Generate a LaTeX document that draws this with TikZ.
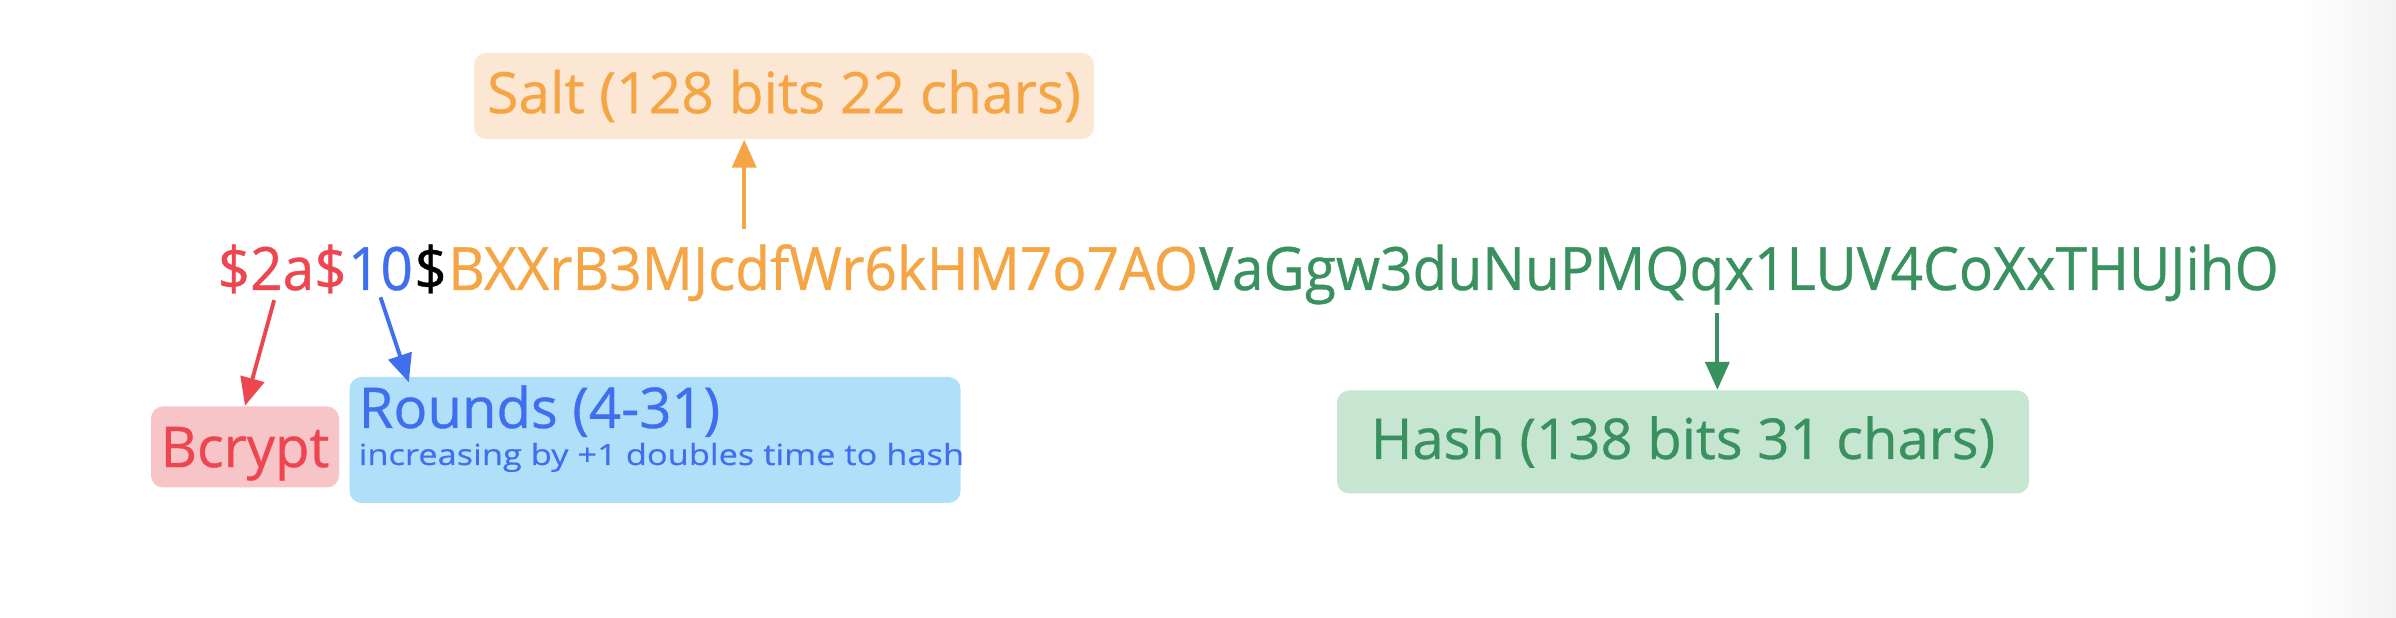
\documentclass[tikz,border=0pt]{standalone}
\usepackage{fontspec}
\setmainfont{Open Sans}
\newfontfamily\strfont[FakeBold=0.6,FakeStretch=0.95]{Open Sans}
\newfontfamily\labfont[FakeBold=0.6]{Open Sans}
\newfontfamily\subfont[FakeBold=0.4,FakeStretch=1.18]{Open Sans}
\usetikzlibrary{calc,arrows.meta}
\definecolor{cred}{HTML}{EE4650}
\definecolor{cblue}{HTML}{3F6FEF}
\definecolor{corange}{HTML}{F6A545}
\definecolor{cgreen}{HTML}{3A9160}
\definecolor{fsalt}{HTML}{FBE7D3}
\definecolor{fred}{HTML}{F7C4C7}
\definecolor{fblue}{HTML}{B0DFFA}
\definecolor{fgreen}{HTML}{C6E6D1}
\tikzset{
  seg/.style={inner sep=0pt, anchor=base west, font=\strfont\fontsize{17}{20}\selectfont},
  labelbox/.style={rounded corners=1.2mm, inner sep=0pt, font=\labfont\fontsize{16}{18}\selectfont},
  arr/.style={line width=1.1pt, -{Triangle[length=2.8mm,width=2.4mm]}},
}
\begin{document}
\begin{tikzpicture}[x=0.1mm,y=-0.1mm]
\useasboundingbox (0,0) rectangle (2396,618);
\fill[white] (0,0) rectangle (2396,618);
\shade[left color=white,right color=black!5] (2300,0) rectangle (2396,618);
% main string
\node[seg, text=cred] (p1) at (217,290) {\$2a\$};
\node[seg, text=cblue] (p2) at (p1.base east) {10};
\node[seg, text=black] (p3) at (p2.base east) {\$};
\node[seg, text=corange] (p4) at (p3.base east) {BXXrB3MJcdfWr6kHM7o7AO};
\node[seg, text=cgreen] (p5) at (p4.base east) {VaGgw3duNuPMQqx1LUV4CoXxTHUJihO};
% boxes
\node[labelbox, fill=fsalt, text=corange, minimum width=62mm, minimum height=8.6mm, font=\labfont\fontsize{16.2}{18}\selectfont] (salt) at (784,96) {Salt (128 bits 22 chars)};
\node[labelbox, fill=fred, text=cred, minimum width=18.8mm, minimum height=8.1mm, text depth=0pt] (bcrypt) at (245,447) {Bcrypt};
\node[labelbox, fill=fblue, minimum width=61.1mm, minimum height=12.6mm] (rounds) at (655,440) {};
\node[inner sep=0pt, anchor=base west, text=cblue, font=\labfont\fontsize{16}{18}\selectfont] (rt) at (358,428) {Rounds (4-31)};
\node[inner sep=0pt, anchor=base west, text=cblue, font=\subfont\fontsize{8.3}{10}\selectfont] (rs) at (358,465) {increasing by +1 doubles time to hash};
\node[labelbox, fill=fgreen, text=cgreen, minimum width=69.2mm, minimum height=10.3mm] (hash) at (1683,442) {Hash (138 bits 31 chars)};
% arrows
\coordinate (s1) at ($(p4.north west)!0.395!(p4.north east)+(0,-15)$);
\draw[arr, corange] (s1) -- (s1 |- salt.south);
\coordinate (r1) at ($(p1.south)+(-8,6)$);
\draw[arr, cred] (r1) -- (bcrypt.north);
\coordinate (b1) at ($(p2.south)+(0,6)$);
\draw[arr, cblue] (b1) -- ($(rounds.north west)+(60,6)$);
\coordinate (g1) at ($(p5.south west)!0.48!(p5.south east)+(0,8)$);
\draw[arr, cgreen] (g1) -- (g1 |- hash.north);
\end{tikzpicture}
\end{document}
